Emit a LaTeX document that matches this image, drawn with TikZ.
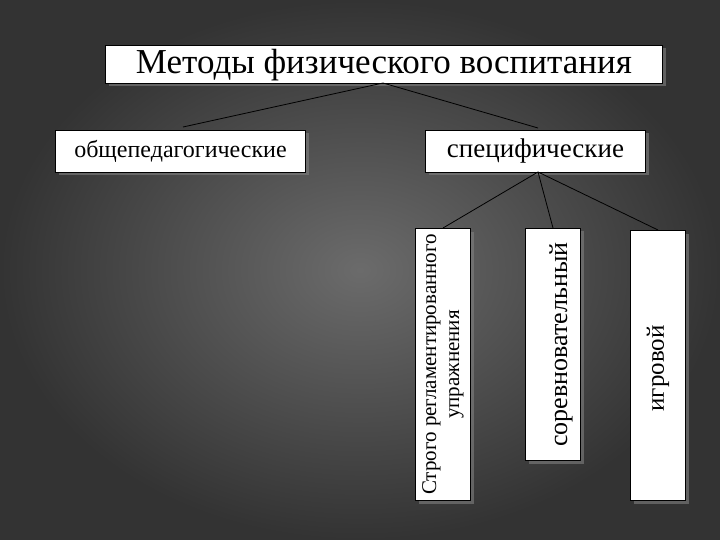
\documentclass[tikz,border=0pt]{standalone}
\usepackage{fontspec}
\setmainfont{Liberation Serif}
\usetikzlibrary{shadows}
\begin{document}
\begin{tikzpicture}[x=1pt,y=-1pt,
  box/.style={draw=black,fill=white,line width=1pt,inner sep=0pt,drop shadow={shadow xshift=3pt,shadow yshift=-3pt,opacity=0.6}},
  conn/.style={draw=black,line width=0.8pt}]
\useasboundingbox (0,0) rectangle (720,540);
\fill[inner color=gray!55!black!80,outer color=black!80] (0,0) rectangle (720,540);
\node[box,minimum width=557pt,minimum height=38pt,anchor=north west] (t) at (105,45) {};
\node[font=\fontsize{35}{35}\selectfont] at ([yshift=-1pt]t.center) {Методы физического воспитания};
\node[box,minimum width=250pt,minimum height=42pt,anchor=north west,font=\fontsize{24}{24}\selectfont] (a) at (55,130) {общепедагогические};
\node[box,minimum width=220pt,minimum height=42pt,anchor=north west,font=\fontsize{27}{27}\selectfont] (b) at (425,130) {специфические};
\node[box,minimum width=55pt,minimum height=272pt,anchor=north west] (v1) at (415,228) {};
\node[rotate=90,align=center,font=\fontsize{21}{23}\selectfont] at (v1.center) {Строго регламентированного\\упражнения};
\node[box,minimum width=55pt,minimum height=232pt,anchor=north west] (v2) at (525,228) {};
\node[rotate=90,font=\fontsize{26}{26}\selectfont] at ([xshift=8pt]v2.center) {соревновательный};
\node[box,minimum width=55pt,minimum height=270pt,anchor=north west] (v3) at (630,230) {};
\node[rotate=90,font=\fontsize{25}{25}\selectfont] at ([yshift=-3pt]v3.center) {игровой};
\coordinate (ts) at (383,83);
\draw[conn] (ts) -- (183,127);
\draw[conn] (ts) -- (538,128);
\coordinate (bs) at (538,172);
\draw[conn] (bs) -- (v1.north);
\draw[conn] (bs) -- (v2.north);
\draw[conn] (bs) -- (v3.north);
\end{tikzpicture}
\end{document}
